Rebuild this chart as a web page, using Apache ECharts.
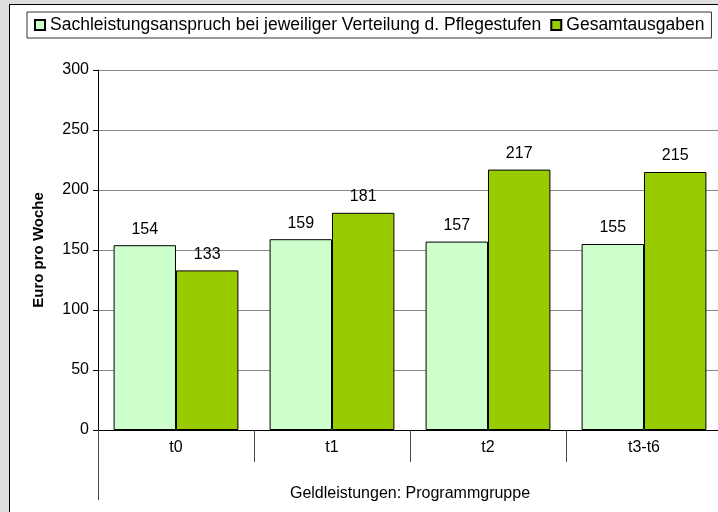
<!DOCTYPE html>
<html>
<head>
<meta charset="utf-8">
<script src="https://cdn.jsdelivr.net/npm/echarts@6/dist/echarts.min.js"></script>
<style>
  html, body { margin: 0; padding: 0; width: 718px; height: 512px; overflow: hidden; background: #dedede; }
  #main {
    position: absolute; left: 9px; top: 4px;
    width: 720px; height: 520px;
    border-left: 1px solid #000; border-top: 1px solid #000;
    background: #fff;
  }
</style>
</head>
<body>
<div id="main"></div>
<script>
const categories = ['t0', 't1', 't2', 't3-t6'];
const sachleistung = [154, 159, 157, 155];
const gesamtausgaben = [133, 181, 217, 215];
const seriesNames = ['Sachleistungsanspruch bei jeweiliger Verteilung d. Pflegestufen', 'Gesamtausgaben'];
const colors = ['#CCFFCC', '#99CC00'];

const font = 'Liberation Sans, Arial, sans-serif';
const chart = echarts.init(document.getElementById('main'));

chart.setOption({
    animation: false,
    color: colors,
    textStyle: { fontFamily: font, color: '#000' },
    legend: {
        left: 17,
        top: 7,
        padding: [4, 7, 4, 7],
        borderColor: '#333',
        borderWidth: 1,
        itemWidth: 10,
        itemHeight: 10,
        itemGap: 9,
        icon: 'rect',
        textStyle: { fontSize: 17.5, color: '#000', fontFamily: font },
        data: seriesNames
    },
    grid: {
        left: 88,
        top: 65,
        right: 8,
        bottom: 95
    },
    xAxis: [{
        type: 'category',
        data: categories,
        axisLine: { show: true, lineStyle: { color: '#000', width: 1 } },
        axisTick: { show: true, length: 32, lineStyle: { color: '#444' } },
        axisLabel: { fontSize: 16, color: '#000', margin: 10 },
        splitLine: { show: false }
    }, {
        type: 'category',
        position: 'bottom',
        offset: 32,
        data: ['Geldleistungen: Programmgruppe'],
        axisLine: { show: false },
        axisTick: { show: true, length: 38, lineStyle: { color: '#444' } },
        axisLabel: { fontSize: 16, color: '#000', margin: 24 },
        splitLine: { show: false }
    }],
    yAxis: {
        type: 'value',
        min: 0,
        max: 300,
        interval: 50,
        name: 'Euro pro Woche',
        nameLocation: 'middle',
        nameRotate: 90,
        nameGap: 52,
        nameTextStyle: { fontSize: 15, fontWeight: 'bold', color: '#000' },
        axisLine: { show: true, lineStyle: { color: '#000' } },
        axisTick: { show: true, inside: false, length: 5, lineStyle: { color: '#000' } },
        axisLabel: { fontSize: 16, color: '#000', margin: 9 },
        splitLine: { show: true, lineStyle: { color: '#888', width: 1 } }
    },
    series: [{
        name: seriesNames[0],
        type: 'bar',
        data: sachleistung,
        barGap: '0%',
        barCategoryGap: '20%',
        itemStyle: { color: colors[0], borderColor: '#000', borderWidth: 1 },
        label: { show: true, position: 'top', distance: 8, fontSize: 16, color: '#000' }
    }, {
        name: seriesNames[1],
        type: 'bar',
        data: gesamtausgaben,
        barGap: '0%',
        barCategoryGap: '20%',
        itemStyle: { color: colors[1], borderColor: '#000', borderWidth: 1 },
        label: { show: true, position: 'top', distance: 8, fontSize: 16, color: '#000' }
    }]
});
</script>
</body>
</html>
